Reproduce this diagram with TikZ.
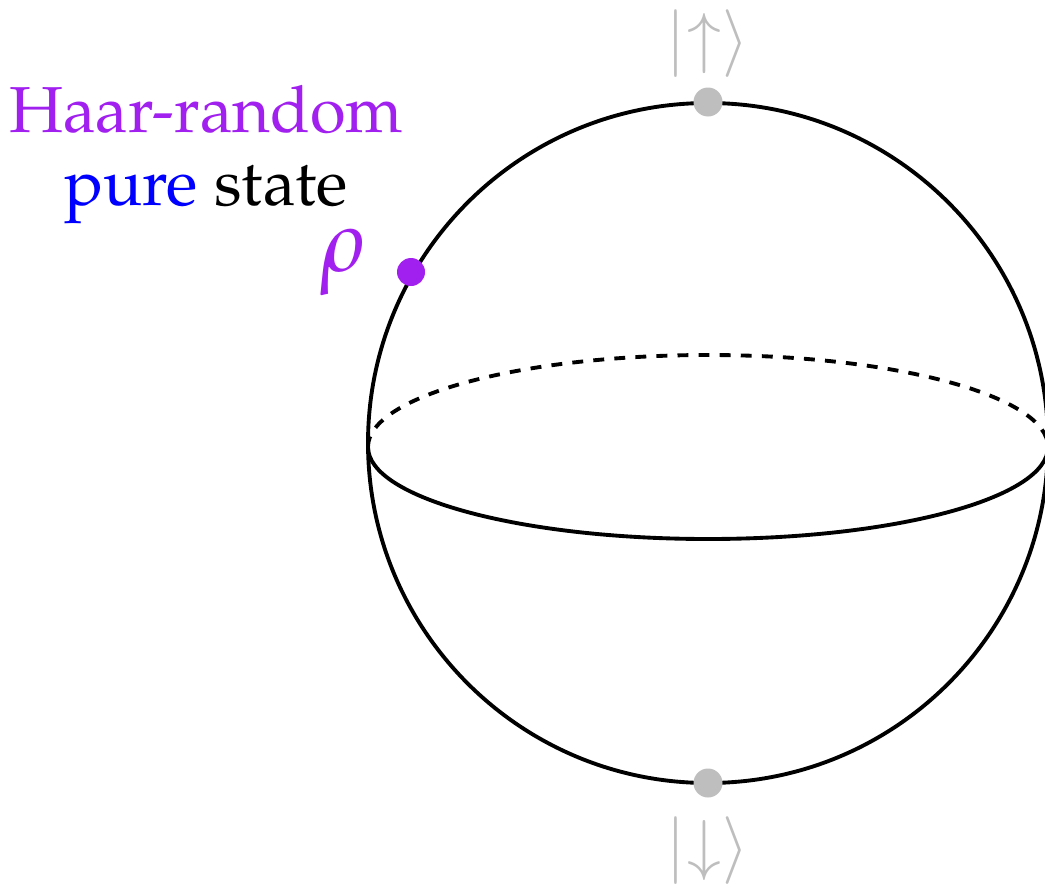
\documentclass[tikz,border=0pt]{standalone}
\usepackage[T1]{fontenc}
\usepackage{mathpazo}
\usepackage{amsmath}
\usepackage{tikz}
\usetikzlibrary{positioning}
\definecolor{haar}{RGB}{161,32,240}
\definecolor{pole}{RGB}{190,190,190}
\tikzset{
  every picture/.style={font=\fontsize{18.5}{22}\selectfont},
  rim/.style={line width=1.1pt},
  back/.style={rim,dash pattern=on 3.1pt off 2.9pt},
  poledot/.style={fill=pole},
  ket/.style={text=pole,inner sep=0pt},
}
\begin{document}
\begin{tikzpicture}
  \useasboundingbox (0,0) rectangle (10.45,-8.86);
  % sphere and equator
  \draw[rim] (7.08,-4.43) circle[radius=3.4];
  \draw[back] (3.68,-4.47) arc[start angle=180,end angle=0,x radius=3.4,y radius=0.92];
  \draw[rim] (3.68,-4.47) arc[start angle=180,end angle=360,x radius=3.4,y radius=0.92];
  % poles
  \fill[poledot] (7.08,-1.02) circle[radius=0.145];
  \fill[poledot] (7.08,-7.83) circle[radius=0.145];
  \node[ket] (up) at (7.08,-0.43) {$|{\uparrow}\rangle$};
  \node[ket] (down) at (7.08,-8.50) {$|{\downarrow}\rangle$};
  % the state
  \fill[haar] (4.11,-2.72) circle[radius=0.14];
  \node[text=haar,inner sep=0pt,font=\fontsize{25}{30}\selectfont] (rho) at (3.43,-2.62) {$\rho$};
  \node[text=haar,inner sep=0pt] (haarlbl) at (2.06,-1.10) {Haar-random};
  \node[inner sep=0pt,below=0.30 of haarlbl] (purelbl) {\textcolor{blue}{pure} state};
\end{tikzpicture}
\end{document}
